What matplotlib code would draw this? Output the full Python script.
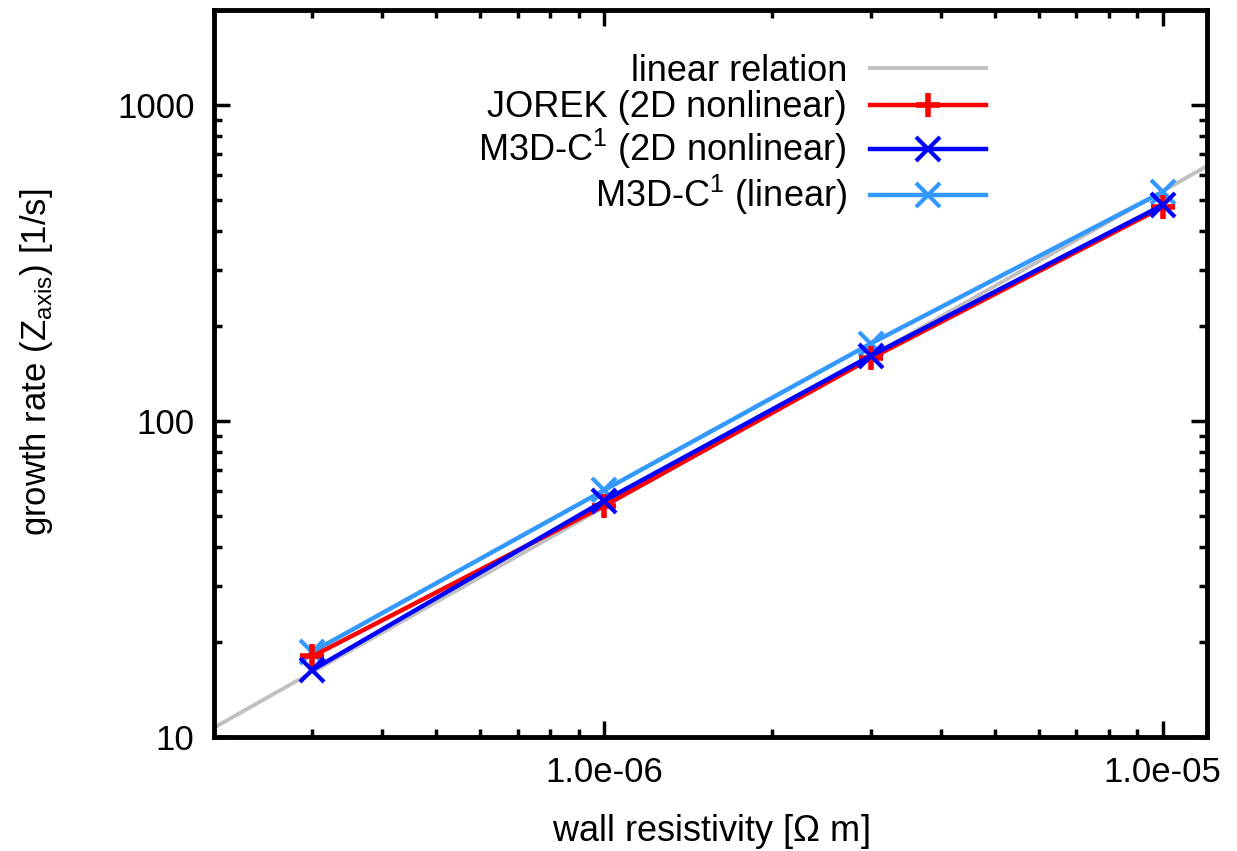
import numpy as np
import matplotlib
matplotlib.use("Agg")
import matplotlib.pyplot as plt
from matplotlib.ticker import LogLocator, FixedLocator, NullFormatter

# Datos
resistividad = [3e-7, 1e-6, 3e-6, 1e-5]
jorek = [18.0, 54.0, 158.0, 476.0]
m3d_nolineal = [16.3, 56.0, 161.0, 483.0]
m3d_lineal = [18.6, 60.5, 176.0, 532.0]
coef_lineal = 5.35e7  # growth rate = coef * resistividad
x_rango = [2e-7, 1.2e-5]
y_rango = [10, 2000]
xticks = [1e-6, 1e-5]
xtick_labels = ["1.0e-06", "1.0e-05"]

plt.rcParams['font.family'] = ['Liberation Sans', 'DejaVu Sans']
plt.rcParams['mathtext.fontset'] = 'custom'
plt.rcParams['mathtext.rm'] = 'Liberation Sans'
fs = 25

fig = plt.figure(figsize=(12.37, 8.51), dpi=100)
ax = fig.add_axes([0.173, 0.134, 0.8027, 0.854])

# Relacion lineal
xl = np.array(x_rango)
ax.plot(xl, coef_lineal * xl, color="#c0c0c0", lw=2.8, label="linear relation", zorder=1)

ax.plot(resistividad, m3d_lineal, color="#3399ff", lw=3.2, marker="x", ms=17, mew=3,
        label=r"M3D-C$^\mathregular{1}$ (linear)", zorder=2)
ax.plot(resistividad, jorek, color="#ff0000", lw=3.2, marker="+", ms=17, mew=4,
        label="JOREK (2D nonlinear)", zorder=3)
ax.plot(resistividad, m3d_nolineal, color="#0000ff", lw=3.2, marker="x", ms=17, mew=3,
        label=r"M3D-C$^\mathregular{1}$ (2D nonlinear)", zorder=4)

ax.set_xscale("log")
ax.set_yscale("log")
ax.set_xlim(x_rango)
ax.set_ylim(y_rango)

ax.xaxis.set_major_locator(FixedLocator(xticks))
ax.set_xticklabels(xtick_labels)
ax.xaxis.set_minor_locator(LogLocator(base=10, subs=np.arange(2, 10)))
ax.xaxis.set_minor_formatter(NullFormatter())
ax.yaxis.set_major_locator(FixedLocator([10, 100, 1000]))
ax.set_yticklabels(["10", "100", "1000"])
ax.yaxis.set_minor_locator(LogLocator(base=10, subs=np.arange(2, 10)))
ax.yaxis.set_minor_formatter(NullFormatter())

ax.tick_params(which="both", direction="in", top=True, right=True, width=2.5, labelsize=fs)
ax.tick_params(which="major", length=11.5)
ax.tick_params(which="minor", length=6)
ax.tick_params(axis="x", which="major", pad=14)
ax.tick_params(axis="y", which="major", pad=14)
for s in ax.spines.values():
    s.set_linewidth(3.5)

ax.set_xlabel(r"wall resistivity [$\Omega$ m]", fontsize=26, labelpad=16)
ax.set_ylabel(r"growth rate (Z$_\mathregular{axis}$) [1/s]", fontsize=fs)
ax.yaxis.set_label_coords(-0.16, 0.515)

handles, labels = ax.get_legend_handles_labels()
orden = [0, 2, 3, 1]
leg = ax.legend([handles[i] for i in orden], [labels[i] for i in orden],
                loc="upper right", bbox_to_anchor=(0.803, 0.975), frameon=False,
                markerfirst=False, fontsize=26, handlelength=3.2, handletextpad=0.65,
                labelspacing=0.05, borderpad=0.2)

fig.savefig("out.png", dpi=100)
